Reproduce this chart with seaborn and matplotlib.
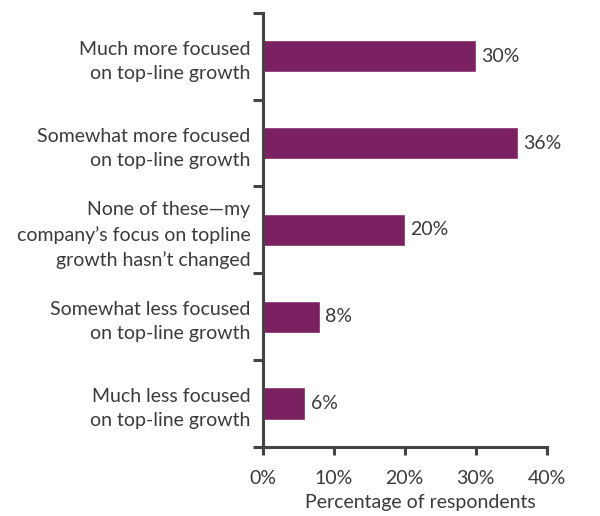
import matplotlib
matplotlib.use("Agg")
import matplotlib.pyplot as plt
from matplotlib.ticker import FixedLocator, NullFormatter
import seaborn as sns
import pandas as pd

categories = [
    "Much more focused\non top-line growth",
    "Somewhat more focused\non top-line growth",
    "None of these\u2014my\ncompany\u2019s focus on topline\ngrowth hasn\u2019t changed",
    "Somewhat less focused\non top-line growth",
    "Much less focused\non top-line growth",
]
values = [30, 36, 20, 8, 6]
x_ticks = [0, 10, 20, 30, 40]
x_tick_labels = ["0%", "10%", "20%", "30%", "40%"]

df = pd.DataFrame({"category": categories, "value": values})

sns.set_theme(style="white")
plt.rcParams["font.family"] = ["Lato", "DejaVu Sans"]

bar_color = "#7B2162"
text_color = "#3a3a3a"
axis_color = "#444444"
fs = 14

fig = plt.figure(figsize=(6.0, 5.16), dpi=100)
ax = fig.add_axes([0.438, 0.134, 0.473, 0.841])

sns.barplot(data=df, x="value", y="category", orient="h", color=bar_color,
            saturation=1, width=0.37, ax=ax)

ax.set_xlim(0, 40)
ax.set_ylim(len(categories) - 0.5, -0.5)

ax.set_xticks(x_ticks)
ax.set_xticklabels(x_tick_labels, fontsize=fs, color=text_color)
ax.set_xlabel("Percentage of respondents", fontsize=fs, color=text_color)
ax.xaxis.set_label_coords(0.555, -0.108)
ax.set_ylabel("")

# category labels without tick marks; tick marks sit between categories
ax.tick_params(axis="y", which="major", length=0, pad=9)
for lbl in ax.get_yticklabels():
    lbl.set_fontsize(fs)
    lbl.set_color(text_color)
    lbl.set_multialignment("right")
    lbl.set_linespacing(1.5)
ax.yaxis.set_minor_locator(FixedLocator([i - 0.5 for i in range(len(categories) + 1)]))
ax.yaxis.set_minor_formatter(NullFormatter())
ax.tick_params(axis="y", which="minor", length=7, width=2.2, color=axis_color, left=True)
ax.tick_params(axis="x", which="major", length=6, width=2.2, color=axis_color,
               bottom=True, pad=11)

for side in ["top", "right"]:
    ax.spines[side].set_visible(False)
for side in ["left", "bottom"]:
    ax.spines[side].set_color(axis_color)
    ax.spines[side].set_linewidth(2.2)

for i, v in enumerate(values):
    ax.text(v + 0.75, i, f"{v}%", va="center", ha="left", fontsize=fs, color=text_color)

fig.savefig("out.png", dpi=100)
